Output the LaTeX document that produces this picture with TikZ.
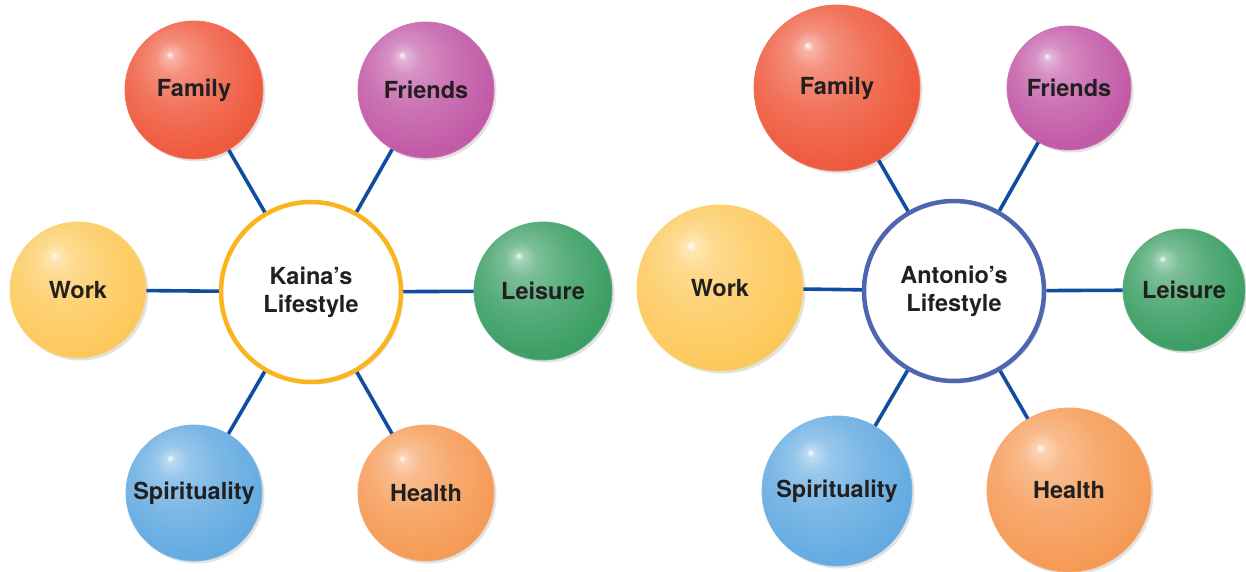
\documentclass[tikz,border=0pt]{standalone}
\usepackage{fontspec}
\usepackage{tikz}
\usetikzlibrary{shapes,shadows}
\newfontfamily\heros{TeX Gyre Heros}
\usepackage{xcolor}
\definecolor{lsred}{RGB}{239,92,64}
\definecolor{lspurple}{RGB}{195,92,168}
\definecolor{lsyellow}{RGB}{253,202,94}
\definecolor{lsgreen}{RGB}{62,160,102}
\definecolor{lsblue}{RGB}{102,172,226}
\definecolor{lsorange}{RGB}{246,156,88}
\definecolor{lsgold}{RGB}{250,180,28}
\definecolor{lsnavy}{RGB}{78,102,176}
\definecolor{lsline}{RGB}{16,76,160}
\definecolor{lstext}{RGB}{34,31,32}
\colorlet{ballcol}{lsred}
\pgfdeclareradialshading[ballcol]{glossyball}{\pgfpoint{-9bp}{13bp}}{%
  color(0bp)=(ballcol!4!white);
  color(1.5bp)=(ballcol!45!white);
  color(6bp)=(ballcol!68!white);
  color(16bp)=(ballcol!86!white);
  color(28bp)=(ballcol);
  color(38bp)=(ballcol!94!black);
  color(50bp)=(ballcol!90!black)}
\newcommand{\bubblefont}{\heros\bfseries\fontsize{23.5}{28}\selectfont}
\tikzset{ball fill/.code={\colorlet{ballcol}{#1}}}
\tikzstyle{bubble} = [circle, inner sep=0pt, shading=glossyball, draw=ballcol!85!white, line width=0.8pt, text=lstext, font=\bubblefont, drop shadow={shadow xshift=2.5pt, shadow yshift=-2.5pt, opacity=0.22}]
\tikzstyle{hub} = [circle, inner sep=0pt, minimum size=180pt, fill=white, line width=4.5pt, text=lstext, font=\bubblefont, align=center, drop shadow={shadow xshift=2.5pt, shadow yshift=-2.5pt, opacity=0.22}]
\tikzstyle{spoke} = [line width=3.6pt, color=lsline]

\begin{document}
\begin{tikzpicture}[x=1pt, y=-1pt]
    \useasboundingbox (0,0) rectangle (1246,572);

    % Kaina
    \node[hub, draw=lsgold] (kaina) at (311, 292) {Kaina’s\\Lifestyle};
    \node[bubble, ball fill=lsred, minimum size=138pt] (kfamily) at (194, 90) {Family};
    \node[bubble, ball fill=lspurple, minimum size=136pt] (kfriends) at (426, 90) {Friends};
    \node[bubble, ball fill=lsyellow, minimum size=136pt] (kwork) at (78, 290) {Work};
    \node[bubble, ball fill=lsgreen, minimum size=138pt] (kleisure) at (543, 291) {Leisure};
    \node[bubble, ball fill=lsblue, minimum size=136pt] (kspirit) at (194, 493) {Spirituality};
    \node[bubble, ball fill=lsorange, minimum size=136pt] (khealth) at (426, 493) {Health};

    % Antonio
    \node[hub, draw=lsnavy] (antonio) at (954, 291) {Antonio’s\\Lifestyle};
    \node[bubble, ball fill=lsred, minimum size=166pt] (afamily) at (837, 88) {Family};
    \node[bubble, ball fill=lspurple, minimum size=124pt] (afriends) at (1069, 88) {Friends};
    \node[bubble, ball fill=lsyellow, minimum size=166pt] (awork) at (720, 288) {Work};
    \node[bubble, ball fill=lsgreen, minimum size=122pt] (aleisure) at (1184, 290) {Leisure};
    \node[bubble, ball fill=lsblue, minimum size=150pt] (aspirit) at (837, 491) {Spirituality};
    \node[bubble, ball fill=lsorange, minimum size=164pt] (ahealth) at (1069, 490) {Health};

    % Spokes
    \foreach \sat in {kfamily,kfriends,kwork,kleisure,kspirit,khealth}
        \draw[spoke] (kaina) -- (\sat);
    \foreach \sat in {afamily,afriends,awork,aleisure,aspirit,ahealth}
        \draw[spoke] (antonio) -- (\sat);
\end{tikzpicture}
\end{document}
